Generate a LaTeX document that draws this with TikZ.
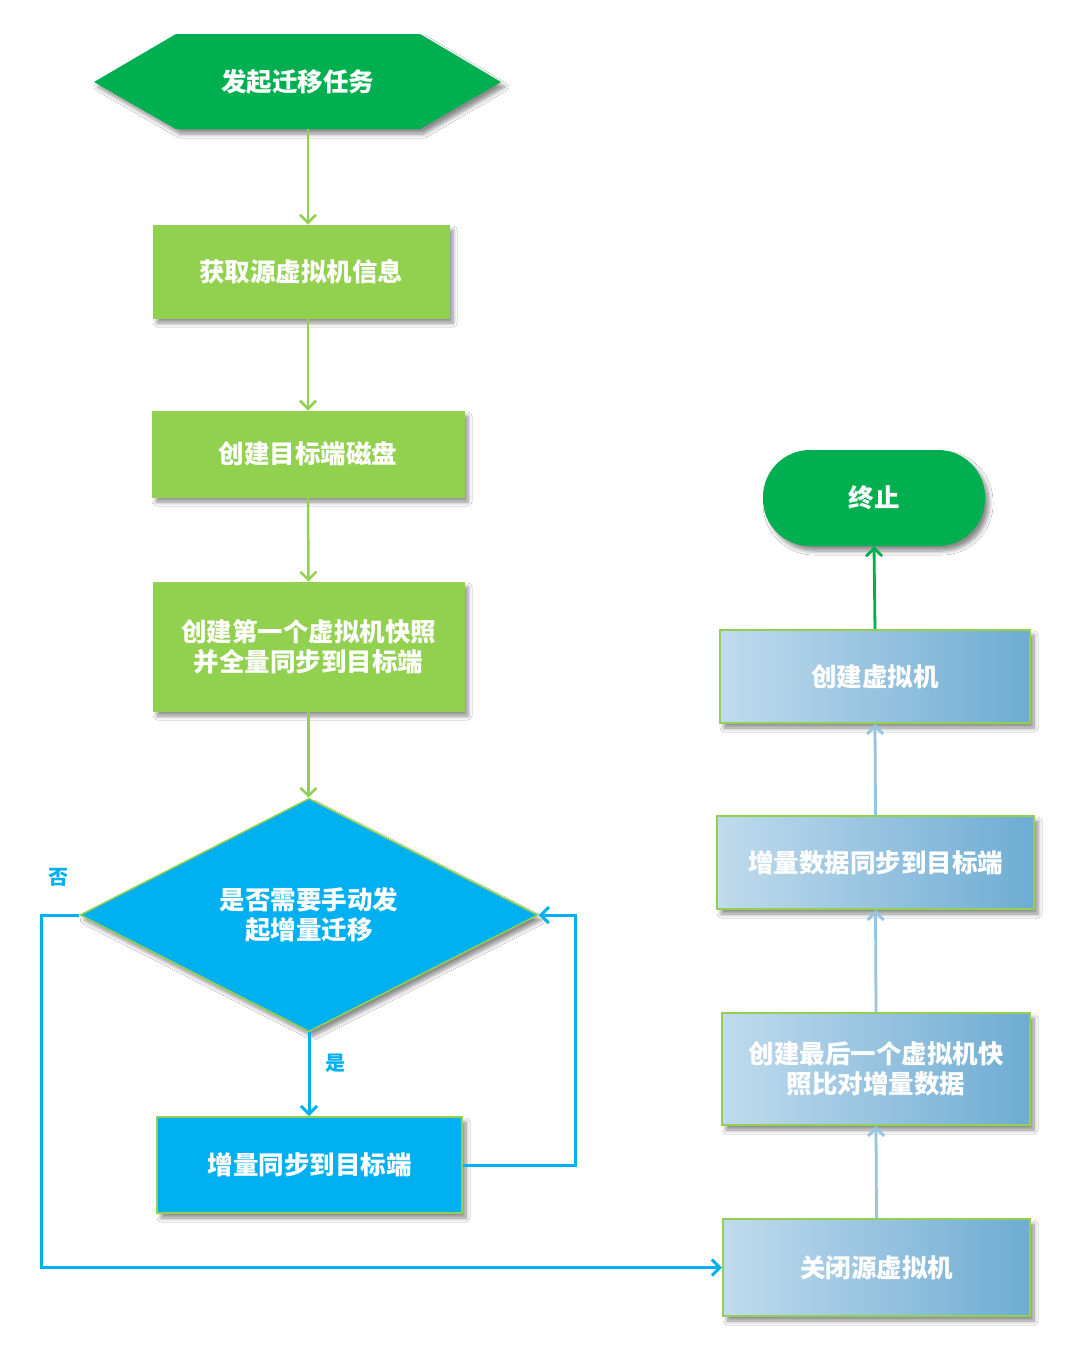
\documentclass[tikz,border=0pt]{standalone}
\usepackage{fontspec}
\newfontfamily\cjk{Noto Sans CJK SC}
\usetikzlibrary{shapes.geometric,arrows.meta,shadows,shadows.blur,calc}
\definecolor{dgreen}{HTML}{00B050}
\definecolor{lgreen}{HTML}{92D050}
\definecolor{cyanb}{HTML}{00B0F0}
\definecolor{gradl}{RGB}{192,219,237}
\definecolor{gradr}{RGB}{110,172,211}
\definecolor{larrow}{RGB}{150,196,226}
\tikzset{
  shd/.style={blur shadow={shadow xshift=4pt,shadow yshift=-5pt,shadow blur radius=4pt,shadow blur steps=6,shadow opacity=45}},
  txt/.style={text=white,align=center,inner sep=0pt},
  gbox/.style={shd,txt,fill=lgreen,draw=lgreen,line width=1pt},
  cbox/.style={shd,txt,fill=cyanb,draw=lgreen,line width=1.8pt},
  rbox/.style={shd,txt,left color=gradl,right color=gradr,draw=lgreen,line width=2pt},
  tip/.style={-{Straight Barb[length=8pt,width=16pt]}},
  garrow/.style={tip,draw=lgreen,line width=2.5pt},
  barrow/.style={tip,draw=cyanb,line width=3pt},
  rarrow/.style={tip,draw=larrow,line width=2.8pt},
  lab/.style={text=cyanb,font=\cjk\bfseries\fontsize{20}{24}\selectfont,inner sep=0pt}
}
\begin{document}
\begin{tikzpicture}[x=1pt,y=-1pt,font=\cjk\bfseries\fontsize{25.5}{30}\selectfont]
\useasboundingbox[fill=white] (0,0) rectangle (1080,1363);
% start hexagon
\path[fill=dgreen,shd] (94,82) -- (176,34) -- (420,34) -- (501,82) -- (420,129) -- (176,129) -- cycle;
\node[txt,minimum width=407pt,minimum height=95pt] (start) at (297.5,81.5) {发起迁移任务};
% left column
\node[gbox,minimum width=296pt,minimum height=93pt] (b1) at (301,271.5) {获取源虚拟机信息};
\node[gbox,minimum width=312pt,minimum height=86pt] (b2) at (308,454) {创建目标端磁盘};
\node[gbox,minimum width=311pt,minimum height=129pt] (b3) at (308.5,646.5) {创建第一个虚拟机快照\\并全量同步到目标端};
\node[shape=diamond,shd,txt,fill=cyanb,draw=lgreen,line width=1.5pt,minimum width=458pt,minimum height=226pt] (dia) at (309,915) {是否需要手动发\\起增量迁移};
\node[cbox,minimum width=305pt,minimum height=96pt] (b4) at (309.5,1165) {增量同步到目标端};
% right column
\node[rbox,minimum width=307pt,minimum height=97pt] (r1) at (876.5,1267.5) {关闭源虚拟机};
\node[rbox,minimum width=308pt,minimum height=112pt] (r2) at (876,1069) {创建最后一个虚拟机快\\照比对增量数据};
\node[rbox,minimum width=317pt,minimum height=93pt] (r3) at (875.5,862.5) {增量数据同步到目标端};
\node[rbox,minimum width=310pt,minimum height=93pt] (r4) at (875,676.5) {创建虚拟机};
\node[shd,txt,fill=dgreen,rounded corners=47pt,minimum width=222pt,minimum height=96pt] (term) at (874,498) {终止};
% labels
\node[lab] (no) at (58,877) {否};
\node[lab] (yes) at (335,1063) {是};
% connectors
\draw[garrow] (start.south -| b2) -- (b1.north -| b2);
\draw[garrow] (b1.south -| b2) -- (b2.north);
\draw[garrow] (b2.south) -- (b3.north);
\draw[garrow] (b3.south) -- (dia.north -| b3);
\draw[barrow] (dia.south) -- (b4.north -| dia);
\draw[barrow] (dia.west) -- ++(-38,0) |- (r1.west);
\draw[barrow] (b4.east) -- ++(113,0) |- (dia.east);
\draw[rarrow] (r1.north) -- (r2.south);
\draw[rarrow] (r2.north) -- (r3.south);
\draw[rarrow] (r3.north) -- (r4.south);
\draw[tip,draw=dgreen,line width=2.8pt] (r4.north) -- (term.south);
\end{tikzpicture}
\end{document}
